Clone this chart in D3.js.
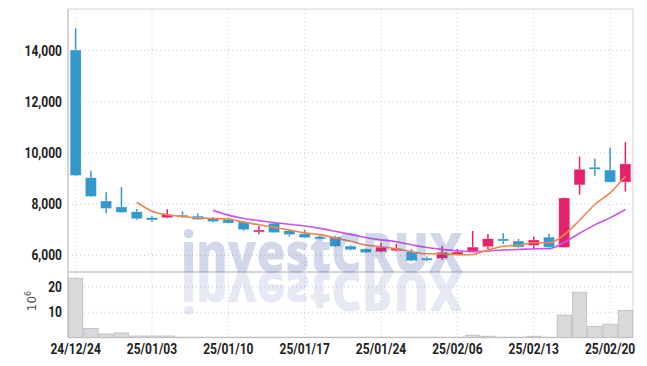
<!DOCTYPE html>
<html>
<head>
<meta charset="utf-8">
<script src="https://cdn.jsdelivr.net/npm/d3@7"></script>
<style>
  body { margin: 0; background: #fff; }
  svg { display: block; }
  .tick-label { font-family: Roboto, "Liberation Sans", sans-serif; font-weight: bold; fill: #222; font-size: 14px; }
</style>
</head>
<body>
<div id="chart"></div>
<script>
// trading days
var dates = ["24/12/24","24/12/26","24/12/27","24/12/30","25/01/02","25/01/03","25/01/06","25/01/07","25/01/08","25/01/09",
             "25/01/10","25/01/13","25/01/14","25/01/15","25/01/16","25/01/17","25/01/20","25/01/21","25/01/22","25/01/23",
             "25/01/24","25/01/31","25/02/03","25/02/04","25/02/05","25/02/06","25/02/07","25/02/10","25/02/11","25/02/12",
             "25/02/13","25/02/14","25/02/17","25/02/18","25/02/19","25/02/20","25/02/21"];
var open  = [14020,9030,8120,7890,7700,7470,7470,7570,7530,7430,7390,7300,6980,7250,6960,6840,6720,6720,6360,6250,
             6140,6190,6140,5890,5880,6030,6160,6340,6640,6560,6390,6710,6310,8750,9440,9330,8860];
var high  = [14870,9300,8460,8660,7810,7550,7800,7720,7630,7490,7460,7330,7140,7290,7030,6990,6760,6760,6410,6270,
             6490,6440,6250,5950,6370,6250,6950,6830,6860,6640,6730,6840,8260,9860,9780,10210,10420];
var low   = [9100,8280,7640,7650,7380,7300,7450,7460,7380,7280,7240,6960,6820,6870,6740,6670,6630,6330,6190,6090,
             6110,6150,5760,5770,5820,6020,6150,6250,6440,6300,6260,6300,6300,8370,9110,8840,8490];
var close = [9120,8300,7830,7680,7430,7380,7600,7500,7400,7320,7260,7000,6990,6890,6810,6690,6660,6350,6220,6110,
             6320,6260,5790,5810,6120,6130,6320,6650,6560,6320,6600,6320,8240,9360,9400,8860,9570];
// volume in millions
var volume = [23.4,3.6,1.4,1.8,0.6,0.6,0.6,0.1,0.1,0.1,0.1,0.1,0.1,0.1,0.1,0.1,0.1,0.1,0.1,0.1,
              0.1,0.1,0.1,0.1,0.1,0.1,0.9,0.5,0.1,0.1,0.5,0.1,8.9,17.9,4.4,5.3,10.7];
var priceTicks = [6000, 8000, 10000, 12000, 14000];
var volumeTicks = [10, 20];
var labelEvery = 5;

var width = 647, height = 366;
var padL = 68, padR = 633, padT = 9, split = 272, padB = 337.5;

var svg = d3.select("#chart").append("svg")
    .attr("width", width).attr("height", height);

var x = d3.scaleBand().domain(d3.range(dates.length)).range([padL, padR]).padding(0);
var y = d3.scaleLinear().domain([5348, 15621]).range([split, padT]);
var yv = d3.scaleLinear().domain([0, 25.9]).range([padB, split]);

var up = "#e5216a", down = "#3399cc";
var cx = function (i) { return x(i) + x.bandwidth() / 2; };

// grid
var grid = svg.append("g").attr("stroke", "#c6cadc").attr("stroke-dasharray", "1,3");
grid.selectAll(".vg").data(d3.range(0, dates.length, labelEvery)).enter().append("line")
    .attr("x1", cx).attr("x2", cx).attr("y1", padT).attr("y2", padB);
grid.selectAll(".hg").data(priceTicks).enter().append("line")
    .attr("x1", padL).attr("x2", padR).attr("y1", d => y(d)).attr("y2", d => y(d));
grid.selectAll(".vhg").data(volumeTicks).enter().append("line")
    .attr("x1", padL).attr("x2", padR).attr("y1", d => yv(d)).attr("y2", d => yv(d));

// frame
var frame = svg.append("g").attr("stroke", "#d4d4dc").attr("fill", "none");
frame.append("line").attr("x1", padL).attr("x2", padR).attr("y1", padT).attr("y2", padT);
frame.append("line").attr("x1", padR).attr("x2", padR).attr("y1", padT).attr("y2", padB);
frame.append("line").attr("x1", padL).attr("x2", padR).attr("y1", padB).attr("y2", padB).attr("stroke-width", 1.5);
frame.append("line").attr("x1", padL).attr("x2", padR).attr("y1", split).attr("y2", split).attr("stroke-width", 1.5).attr("stroke", "#c8c8cc");
frame.append("line").attr("x1", padL).attr("x2", padL).attr("y1", padT).attr("y2", padB).attr("stroke-width", 2);

// volume bars
svg.append("g").selectAll("rect").data(volume).enter().append("rect")
    .attr("x", (d, i) => x(i) + 0.5)
    .attr("width", x.bandwidth() - 1)
    .attr("y", d => yv(d))
    .attr("height", d => padB - yv(d))
    .attr("fill", "#d9d9db")
    .attr("stroke", "#bcbcc0")
    .attr("stroke-width", 0.8);

// candles
var candles = svg.append("g").selectAll("g").data(dates).enter().append("g");
candles.append("line")
    .attr("x1", (d, i) => cx(i)).attr("x2", (d, i) => cx(i))
    .attr("y1", (d, i) => y(high[i])).attr("y2", (d, i) => y(low[i]))
    .attr("stroke", (d, i) => close[i] >= open[i] ? up : down)
    .attr("stroke-width", 1.5);
var bw = x.bandwidth() * 0.72;
candles.append("rect")
    .attr("x", (d, i) => cx(i) - bw / 2)
    .attr("width", bw)
    .attr("y", (d, i) => y(Math.max(open[i], close[i])))
    .attr("height", (d, i) => Math.max(2, Math.abs(y(open[i]) - y(close[i]))))
    .attr("fill", (d, i) => close[i] >= open[i] ? up : down)
    .attr("stroke", "#fff").attr("stroke-opacity", 0.5).attr("stroke-width", 0.6);

// moving averages of close
function movingAvg(n) {
    var out = [];
    for (var i = n - 1; i < close.length; i++) {
        out.push([i, d3.mean(close.slice(i - n + 1, i + 1))]);
    }
    return out;
}
var line = d3.line().x(d => cx(d[0])).y(d => y(d[1])).curve(d3.curveMonotoneX);
svg.append("path").attr("d", line(movingAvg(10)))
    .attr("fill", "none").attr("stroke", "#c955ea").attr("stroke-width", 1.6);
svg.append("path").attr("d", line(movingAvg(5)))
    .attr("fill", "none").attr("stroke", "#ef8450").attr("stroke-width", 1.6);

// watermark + reflection
var wm = svg.append("g").style("font-family", "'Open Sans', 'Noto Sans', sans-serif").style("font-weight", "800");
wm.append("text").attr("x", 181).attr("y", split).attr("font-size", 55)
    .attr("textLength", 282).attr("lengthAdjust", "spacingAndGlyphs")
    .attr("fill", "rgb(60,85,165)").attr("fill-opacity", 0.23)
    .text("investCRUX");
wm.append("text").attr("x", 181).attr("y", split).attr("font-size", 55)
    .attr("textLength", 282).attr("lengthAdjust", "spacingAndGlyphs")
    .attr("transform", "translate(0," + (2 * split) + ") scale(1,-1)")
    .attr("fill", "rgb(60,85,165)").attr("fill-opacity", 0.14)
    .text("investCRUX");

// y labels (squeezed horizontally for the narrow look)
var squeeze = 0.86;
svg.append("g").selectAll("text").data(priceTicks).enter().append("text")
    .attr("class", "tick-label")
    .attr("transform", d => "translate(62," + y(d) + ") scale(" + squeeze + ",1)")
    .attr("dy", "0.36em")
    .attr("text-anchor", "end")
    .text(d => d3.format(",")(d));
svg.append("g").selectAll("text").data(volumeTicks).enter().append("text")
    .attr("class", "tick-label")
    .attr("transform", d => "translate(62," + yv(d) + ") scale(" + squeeze + ",1)")
    .attr("dy", "0.36em")
    .attr("text-anchor", "end")
    .text(d => d);

// unit label 10^6
var unit = svg.append("text")
    .attr("transform", "translate(36,301) rotate(-90)")
    .attr("text-anchor", "middle")
    .style("font-family", "DejaVu Sans, sans-serif").style("font-size", "12px")
    .attr("fill", "#555");
unit.append("tspan").text("10");
unit.append("tspan").attr("dy", -5).style("font-size", "8px").text("6");

// x labels
svg.append("g").selectAll("text").data(d3.range(0, dates.length, labelEvery)).enter().append("text")
    .attr("class", "tick-label")
    .attr("transform", i => "translate(" + cx(i) + ",354) scale(" + squeeze + ",1)")
    .attr("text-anchor", "middle")
    .text(i => dates[i]);
</script>
</body>
</html>
